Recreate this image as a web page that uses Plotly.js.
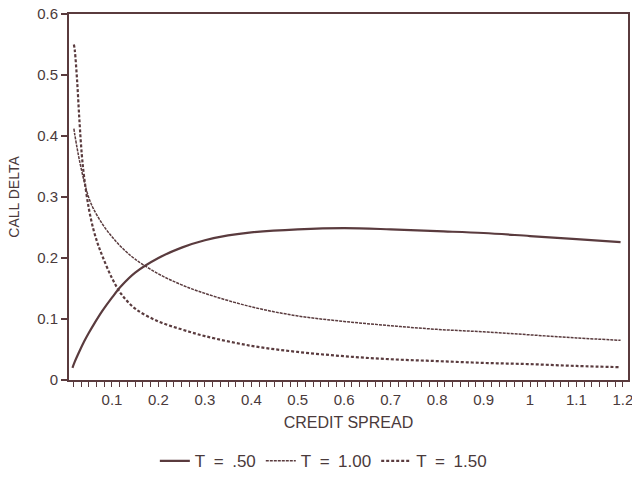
<!DOCTYPE html>
<html>
<head>
<meta charset="utf-8">
<script src="https://cdn.plot.ly/plotly-3.0.1.min.js"></script>
<style>html,body{margin:0;padding:0;background:#fff;}#chart{width:632px;height:483px;}</style>
</head>
<body>
<div id="chart"></div>
<script>
// Credit spread (x) values per series
const xT050 = [0.015, 0.02, 0.03, 0.04, 0.05, 0.06, 0.08, 0.1, 0.12, 0.15, 0.2, 0.25, 0.3, 0.35, 0.4, 0.5, 0.6, 0.7, 0.8, 0.9, 1.0, 1.1, 1.195];
const yT050 = [0.020, 0.030, 0.047, 0.063, 0.077, 0.090, 0.114, 0.135, 0.154, 0.176, 0.200, 0.217, 0.229, 0.237, 0.242, 0.247, 0.249, 0.247, 0.244, 0.241, 0.236, 0.231, 0.226];

const xT100 = [0.018, 0.02, 0.025, 0.03, 0.04, 0.05, 0.06, 0.08, 0.1, 0.12, 0.15, 0.2, 0.25, 0.3, 0.4, 0.5, 0.6, 0.7, 0.8, 0.9, 1.0, 1.1, 1.195];
const yT100 = [0.412, 0.402, 0.380, 0.360, 0.326, 0.299, 0.281, 0.255, 0.235, 0.218, 0.198, 0.174, 0.156, 0.142, 0.120, 0.105, 0.096, 0.089, 0.083, 0.079, 0.074, 0.069, 0.065];

const xT150 = [0.018, 0.02, 0.025, 0.03, 0.035, 0.04, 0.05, 0.06, 0.07, 0.08, 0.1, 0.12, 0.15, 0.2, 0.25, 0.3, 0.4, 0.5, 0.6, 0.7, 0.8, 0.9, 1.0, 1.1, 1.195];
const yT150 = [0.550, 0.540, 0.490, 0.425, 0.370, 0.333, 0.282, 0.247, 0.222, 0.202, 0.167, 0.141, 0.117, 0.096, 0.083, 0.072, 0.056, 0.046, 0.039, 0.034, 0.031, 0.028, 0.026, 0.023, 0.021];

const seriesNames = ["T\u2002=\u2002.50", "T\u2002=\u20021.00", "T\u2002=\u20021.50"];
const yTickVals = [0, 0.1, 0.2, 0.3, 0.4, 0.5, 0.6];

const ink = "#5a3b3e";
const textInk = "#4a3a3b";
const font = "Liberation Sans, Arial, sans-serif";

const traces = [
  {x: xT050, y: yT050, name: seriesNames[0], mode: "lines", line: {color: ink, width: 2.2, shape: "spline", smoothing: 1}},
  {x: xT100, y: yT100, name: seriesNames[1], mode: "lines", line: {color: ink, width: 1.5, dash: "3px,1px", shape: "spline", smoothing: 1}},
  {x: xT150, y: yT150, name: seriesNames[2], mode: "lines", line: {color: ink, width: 2.2, dash: "3px,2px", shape: "spline", smoothing: 1}}
];

const layout = {
  width: 632, height: 483,
  margin: {l: 69, r: 4, t: 14, b: 99},
  paper_bgcolor: "#fff", plot_bgcolor: "#fff",
  font: {family: font, size: 15, color: textInk},
  showlegend: true,
  legend: {orientation: "h", x: 0.455, xanchor: "center", y: -0.222, yanchor: "middle",
           font: {family: font, size: 17, color: textInk}, tracegroupgap: 0},
  xaxis: {
    range: [0.0075, 1.211], showgrid: false, zeroline: false,
    showline: true, mirror: true, linecolor: ink, linewidth: 2,
    ticks: "outside", ticklen: 5, tickwidth: 1, tickcolor: ink,
    tickmode: "linear", tick0: 0, dtick: 0.1, ticklabeloverflow: "allow",
    minor: {dtick: 0.1 / 6, tick0: 0, ticks: "outside", ticklen: 5, tickwidth: 1, tickcolor: ink, showgrid: false},
    tickfont: {family: font, size: 15, color: textInk},
    title: {text: "CREDIT SPREAD", font: {family: font, size: 16, color: textInk}, standoff: 10}
  },
  yaxis: {
    range: [0, 0.6], showgrid: false, zeroline: false,
    showline: true, mirror: true, linecolor: ink, linewidth: 2,
    ticks: "outside", ticklen: 6, tickwidth: 1.5, tickcolor: ink,
    tickmode: "array", tickvals: yTickVals,
    tickfont: {family: font, size: 15, color: textInk},
    title: {text: "CALL DELTA", font: {family: font, size: 14, color: textInk}, standoff: 14}
  }
};

Plotly.newPlot("chart", traces, layout, {staticPlot: true, displayModeBar: false});
</script>
</body>
</html>
